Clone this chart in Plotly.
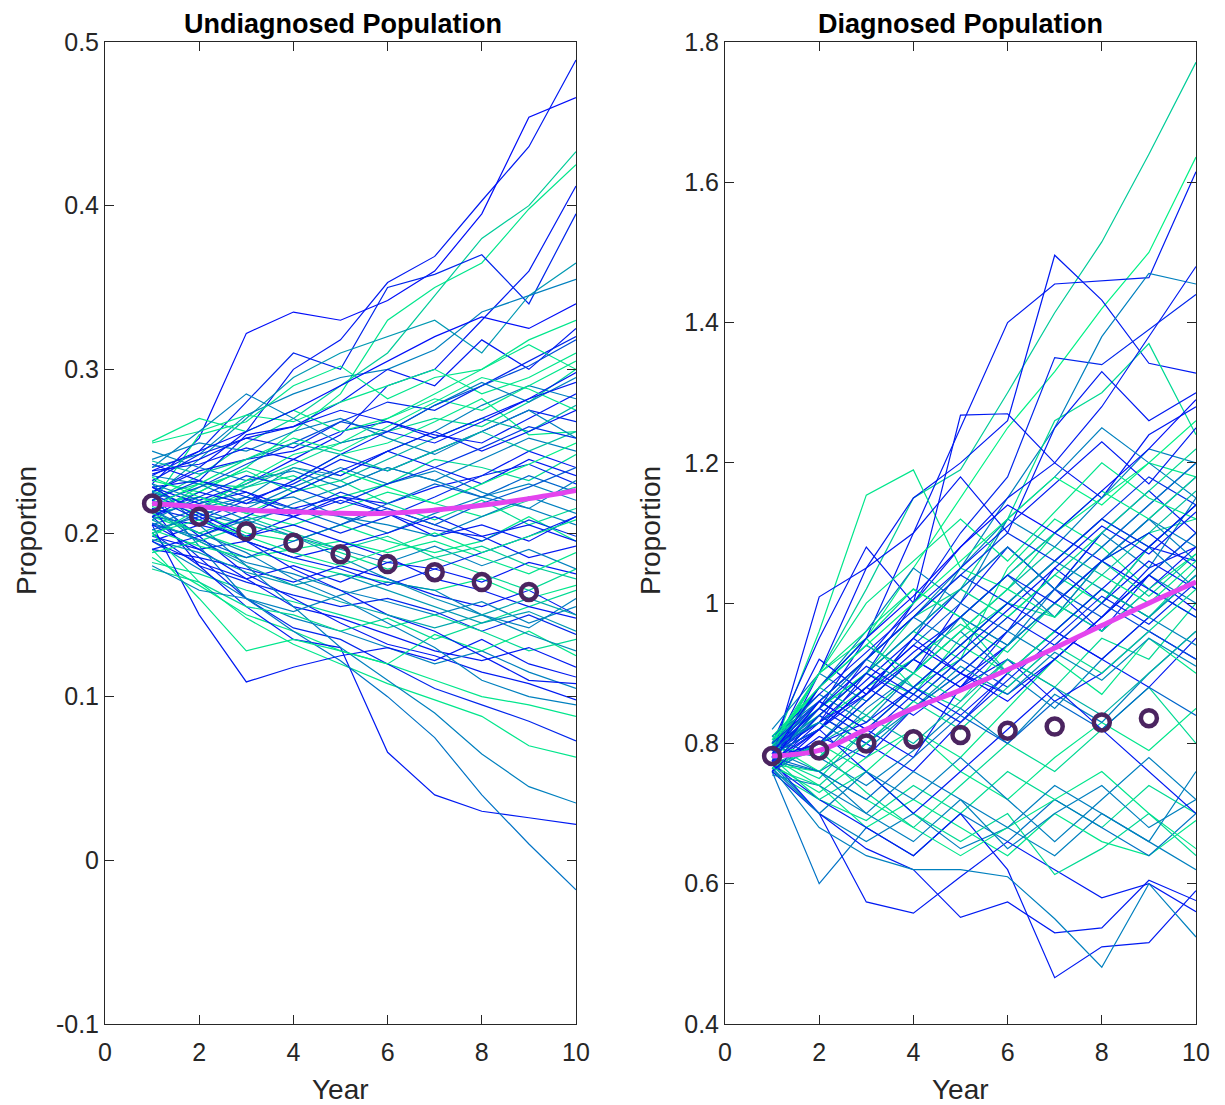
import plotly.graph_objects as go

YEARS = [1, 2, 3, 4, 5, 6, 7, 8, 9, 10]
MARK_YEARS = [1, 2, 3, 4, 5, 6, 7, 8, 9]

# ---------------- Undiagnosed population: simulated paths ----------------
U_PATHS = [
    [0.225,0.240,0.262,0.300,0.318,0.353,0.369,0.403,0.436,0.489],
    [0.230,0.258,0.322,0.335,0.330,0.342,0.360,0.395,0.454,0.466],
    [0.220,0.235,0.255,0.270,0.290,0.310,0.345,0.380,0.400,0.433],
    [0.215,0.225,0.240,0.262,0.285,0.330,0.350,0.365,0.398,0.425],
    [0.210,0.220,0.230,0.245,0.260,0.290,0.300,0.330,0.360,0.412],
    [0.235,0.250,0.280,0.310,0.300,0.350,0.358,0.370,0.340,0.395],
    [0.222,0.245,0.270,0.295,0.310,0.320,0.330,0.310,0.345,0.365],
    [0.240,0.248,0.272,0.285,0.295,0.300,0.312,0.335,0.345,0.355],
    [0.228,0.232,0.260,0.265,0.280,0.300,0.290,0.318,0.300,0.325],
    [0.218,0.260,0.268,0.290,0.302,0.282,0.295,0.300,0.318,0.330],
    [0.212,0.218,0.230,0.242,0.255,0.262,0.270,0.265,0.280,0.300],
    [0.205,0.215,0.222,0.240,0.235,0.250,0.262,0.278,0.290,0.282],
    [0.225,0.238,0.245,0.250,0.262,0.268,0.260,0.255,0.270,0.285],
    [0.232,0.225,0.240,0.232,0.248,0.255,0.268,0.282,0.260,0.262],
    [0.215,0.208,0.220,0.230,0.245,0.238,0.250,0.262,0.275,0.268],
    [0.200,0.212,0.205,0.218,0.228,0.240,0.232,0.245,0.258,0.250],
    [0.222,0.230,0.228,0.235,0.222,0.230,0.245,0.240,0.232,0.248],
    [0.210,0.205,0.215,0.210,0.222,0.218,0.228,0.235,0.250,0.240],
    [0.245,0.255,0.250,0.262,0.270,0.258,0.248,0.262,0.275,0.258],
    [0.255,0.262,0.272,0.268,0.280,0.290,0.300,0.285,0.295,0.310],
    [0.238,0.242,0.252,0.245,0.235,0.250,0.240,0.230,0.245,0.235],
    [0.218,0.222,0.212,0.205,0.215,0.225,0.218,0.210,0.220,0.228],
    [0.205,0.198,0.208,0.215,0.210,0.200,0.212,0.222,0.215,0.205],
    [0.228,0.218,0.225,0.210,0.200,0.210,0.222,0.235,0.242,0.230],
    [0.212,0.228,0.238,0.225,0.232,0.218,0.208,0.220,0.205,0.215],
    [0.195,0.205,0.198,0.210,0.220,0.212,0.198,0.205,0.195,0.210],
    [0.235,0.230,0.218,0.222,0.210,0.205,0.198,0.210,0.222,0.212],
    [0.220,0.212,0.200,0.195,0.205,0.195,0.188,0.195,0.210,0.195],
    [0.198,0.190,0.195,0.185,0.192,0.200,0.210,0.198,0.185,0.192],
    [0.225,0.215,0.205,0.198,0.190,0.182,0.192,0.180,0.190,0.178],
    [0.210,0.200,0.190,0.182,0.175,0.170,0.165,0.172,0.160,0.168],
    [0.190,0.185,0.178,0.170,0.180,0.172,0.162,0.155,0.165,0.150],
    [0.215,0.195,0.182,0.175,0.165,0.158,0.150,0.158,0.145,0.155],
    [0.200,0.180,0.170,0.162,0.155,0.160,0.152,0.140,0.150,0.138],
    [0.182,0.175,0.165,0.158,0.150,0.142,0.150,0.140,0.128,0.135],
    [0.205,0.190,0.172,0.155,0.148,0.138,0.128,0.122,0.130,0.118],
    [0.195,0.178,0.160,0.148,0.140,0.130,0.120,0.128,0.115,0.105],
    [0.220,0.198,0.175,0.160,0.145,0.132,0.125,0.115,0.108,0.098],
    [0.185,0.168,0.150,0.140,0.128,0.120,0.110,0.100,0.095,0.088],
    [0.210,0.185,0.160,0.142,0.135,0.120,0.105,0.095,0.085,0.073],
    [0.200,0.170,0.148,0.132,0.120,0.108,0.098,0.088,0.070,0.063],
    [0.215,0.180,0.155,0.135,0.130,0.066,0.040,0.030,0.026,0.022],
    [0.225,0.192,0.160,0.140,0.122,0.100,0.075,0.040,0.010,-0.018],
    [0.230,0.205,0.180,0.155,0.130,0.110,0.090,0.065,0.045,0.035],
    [0.205,0.150,0.109,0.118,0.125,0.130,0.122,0.135,0.120,0.112],
    [0.190,0.160,0.128,0.135,0.128,0.120,0.138,0.128,0.140,0.125],
    [0.178,0.170,0.155,0.150,0.140,0.148,0.135,0.145,0.155,0.165],
    [0.180,0.165,0.160,0.152,0.162,0.170,0.165,0.150,0.142,0.160],
    [0.195,0.182,0.172,0.180,0.170,0.182,0.178,0.170,0.182,0.175],
    [0.202,0.192,0.185,0.190,0.195,0.188,0.195,0.185,0.175,0.188],
    [0.242,0.232,0.225,0.215,0.222,0.212,0.202,0.198,0.205,0.195],
    [0.250,0.240,0.232,0.238,0.228,0.240,0.232,0.222,0.230,0.220],
    [0.256,0.270,0.262,0.275,0.262,0.270,0.282,0.275,0.290,0.305],
    [0.232,0.248,0.258,0.252,0.268,0.280,0.275,0.290,0.305,0.320],
    [0.208,0.222,0.215,0.228,0.240,0.230,0.238,0.225,0.215,0.232],
    [0.188,0.195,0.205,0.198,0.188,0.178,0.185,0.175,0.165,0.178],
    [0.214,0.200,0.188,0.172,0.160,0.145,0.130,0.110,0.100,0.095],
    [0.224,0.210,0.195,0.178,0.165,0.150,0.140,0.125,0.110,0.108],
    [0.198,0.215,0.232,0.248,0.255,0.270,0.285,0.300,0.315,0.300],
    [0.240,0.262,0.285,0.270,0.255,0.262,0.278,0.292,0.280,0.295],
    [0.218,0.228,0.242,0.255,0.268,0.262,0.278,0.290,0.302,0.318],
    [0.226,0.215,0.228,0.240,0.232,0.245,0.258,0.270,0.262,0.278],
    [0.210,0.225,0.218,0.232,0.248,0.262,0.255,0.268,0.282,0.298],
    [0.234,0.222,0.212,0.225,0.238,0.228,0.218,0.230,0.242,0.255],
    [0.202,0.210,0.222,0.215,0.205,0.218,0.230,0.222,0.235,0.225],
    [0.220,0.232,0.222,0.212,0.225,0.215,0.205,0.195,0.208,0.198],
    [0.212,0.200,0.210,0.200,0.190,0.198,0.185,0.192,0.180,0.172],
    [0.228,0.212,0.198,0.205,0.195,0.185,0.172,0.165,0.155,0.148],
    [0.196,0.188,0.176,0.168,0.175,0.165,0.155,0.145,0.152,0.140],
    [0.238,0.250,0.262,0.275,0.290,0.305,0.320,0.332,0.325,0.340],
    [0.216,0.230,0.245,0.258,0.250,0.265,0.280,0.295,0.288,0.275],
    [0.206,0.196,0.185,0.195,0.205,0.215,0.205,0.218,0.228,0.240],
    [0.222,0.208,0.195,0.185,0.178,0.168,0.178,0.188,0.198,0.210],
    [0.244,0.236,0.245,0.255,0.248,0.238,0.250,0.262,0.250,0.262],
    [0.190,0.198,0.210,0.225,0.238,0.250,0.262,0.250,0.262,0.275],
    [0.230,0.220,0.208,0.198,0.185,0.172,0.160,0.150,0.138,0.128],
    [0.214,0.222,0.235,0.228,0.218,0.230,0.240,0.252,0.265,0.258],
    [0.200,0.208,0.198,0.188,0.180,0.190,0.200,0.188,0.198,0.208],
    [0.236,0.245,0.258,0.265,0.275,0.268,0.258,0.270,0.282,0.292],
    [0.208,0.195,0.180,0.168,0.158,0.150,0.142,0.150,0.160,0.150],
]
U_MEAN = [0.218,0.216,0.214,0.213,0.212,0.212,0.214,0.217,0.221,0.226]
U_MARKS = [0.218,0.210,0.201,0.194,0.187,0.181,0.176,0.170,0.164]

# ---------------- Diagnosed population: simulated paths ----------------
D_PATHS = [
    [0.790,0.900,1.020,1.150,1.190,1.300,1.414,1.515,1.640,1.771],
    [0.800,0.880,0.950,1.050,1.150,1.250,1.330,1.420,1.500,1.636],
    [0.780,0.850,0.950,1.100,1.250,1.400,1.455,1.460,1.464,1.615],
    [0.770,0.900,1.050,1.150,1.200,1.260,1.496,1.432,1.342,1.328],
    [0.785,0.820,0.900,1.000,1.100,1.180,1.350,1.340,1.390,1.440],
    [0.760,0.800,0.870,0.950,1.050,1.150,1.250,1.380,1.470,1.455],
    [0.795,0.840,0.900,0.980,1.020,1.120,1.260,1.300,1.370,1.240],
    [0.770,0.830,0.920,1.000,1.080,1.150,1.200,1.280,1.380,1.480],
    [0.790,0.960,1.154,1.190,1.050,1.020,1.100,1.150,1.200,1.180],
    [0.780,1.009,1.050,1.100,1.180,1.100,1.250,1.330,1.260,1.300],
    [0.800,0.950,1.080,1.000,1.268,1.270,1.200,1.150,1.240,1.280],
    [0.775,0.880,0.960,1.050,1.000,1.120,1.180,1.250,1.200,1.150],
    [0.790,0.850,0.900,0.870,0.950,1.000,0.980,1.060,1.100,1.120],
    [0.770,0.820,0.870,0.920,0.880,0.960,1.050,1.000,1.080,1.060],
    [0.800,0.870,0.830,0.900,0.980,0.940,1.020,1.100,1.050,1.150],
    [0.785,0.900,0.950,0.880,0.920,1.050,1.120,1.080,1.020,0.980],
    [0.760,0.810,0.780,0.850,0.900,0.870,0.920,0.980,1.050,1.080],
    [0.810,0.860,0.920,0.980,1.050,1.120,1.080,1.150,1.220,1.200],
    [0.780,0.750,0.820,0.880,0.850,0.920,0.880,0.950,0.920,1.000],
    [0.770,0.840,0.800,0.760,0.830,0.900,0.960,0.920,0.880,0.950],
    [0.795,0.780,0.850,0.900,0.960,0.900,0.850,0.920,0.980,0.940],
    [0.765,0.800,0.760,0.820,0.780,0.850,0.920,0.870,0.950,0.900],
    [0.790,0.880,0.940,0.900,1.000,1.080,1.020,0.960,1.040,1.100],
    [0.800,0.830,0.880,0.920,0.970,0.930,1.000,1.060,1.010,1.070],
    [0.775,0.760,0.800,0.850,0.900,0.960,0.920,0.980,1.040,1.000],
    [0.785,0.820,0.880,0.840,0.890,0.940,1.000,0.960,1.020,1.080],
    [0.770,0.730,0.780,0.820,0.760,0.720,0.780,0.830,0.790,0.850],
    [0.810,0.780,0.740,0.790,0.850,0.800,0.870,0.830,0.900,0.960],
    [0.780,0.800,0.830,0.880,0.840,0.900,0.960,0.920,0.980,1.040],
    [0.760,0.720,0.690,0.740,0.700,0.760,0.720,0.680,0.740,0.700],
    [0.770,0.700,0.660,0.700,0.650,0.680,0.640,0.700,0.660,0.620],
    [0.780,0.740,0.680,0.720,0.680,0.640,0.700,0.660,0.640,0.690],
    [0.760,0.600,0.680,0.640,0.700,0.660,0.720,0.680,0.640,0.700],
    [0.775,0.700,0.574,0.558,0.610,0.660,0.620,0.580,0.600,0.560],
    [0.760,0.700,0.650,0.620,0.552,0.574,0.530,0.537,0.605,0.576],
    [0.770,0.720,0.680,0.640,0.700,0.620,0.466,0.510,0.516,0.590],
    [0.765,0.680,0.640,0.620,0.620,0.610,0.550,0.481,0.600,0.524],
    [0.770,0.760,0.720,0.680,0.640,0.680,0.720,0.760,0.700,0.650],
    [0.780,0.720,0.760,0.700,0.660,0.700,0.613,0.650,0.700,0.640],
    [0.790,0.760,0.700,0.760,0.720,0.650,0.700,0.740,0.680,0.720],
    [0.780,0.800,0.860,0.920,0.880,0.940,1.000,1.060,1.020,0.980],
    [0.755,0.740,0.700,0.660,0.720,0.680,0.740,0.700,0.660,0.760],
    [0.800,0.850,0.900,0.960,0.920,0.980,1.040,1.000,1.080,1.140],
    [0.790,0.830,0.870,0.930,0.980,1.040,1.100,1.060,1.120,1.180],
    [0.820,0.900,0.860,0.920,0.980,1.040,0.980,1.060,1.120,1.060],
    [0.805,0.880,0.950,1.020,0.980,0.900,0.960,1.020,0.980,1.050],
    [0.790,0.920,0.870,0.950,1.020,1.080,1.020,1.100,1.160,1.100],
    [0.775,0.850,0.920,0.980,0.940,1.000,1.060,1.120,1.080,1.020],
    [0.800,0.780,0.840,0.900,0.860,0.940,1.000,0.960,1.020,1.070],
    [0.790,0.860,0.820,0.780,0.880,0.920,0.860,0.900,0.960,0.920],
    [0.770,0.840,0.900,0.960,1.020,0.980,1.040,1.100,1.160,1.220],
    [0.785,0.830,0.890,0.950,0.900,0.960,1.020,1.080,1.140,1.200],
    [0.760,0.800,0.860,0.920,0.980,0.940,1.000,1.060,1.120,1.080],
    [0.800,0.760,0.820,0.880,0.940,0.900,0.960,1.020,0.980,1.040],
    [0.775,0.820,0.760,0.700,0.760,0.820,0.880,0.820,0.760,0.700],
    [0.790,0.840,0.900,0.960,1.020,1.080,1.020,1.080,1.140,1.200],
    [0.770,0.790,0.730,0.680,0.740,0.800,0.760,0.820,0.880,0.800],
    [0.810,0.870,0.930,0.990,1.050,1.110,1.170,1.230,1.170,1.250],
    [0.765,0.700,0.760,0.720,0.780,0.720,0.660,0.720,0.780,0.720],
    [0.795,0.900,1.000,1.060,1.120,1.060,1.130,1.200,1.150,1.120],
    [0.780,0.860,0.920,0.980,1.040,1.000,1.060,1.120,1.180,1.140],
    [0.790,0.880,0.840,0.900,0.960,1.020,1.080,1.040,1.100,1.160],
    [0.770,0.840,0.900,0.860,0.920,0.980,0.940,1.000,1.060,1.020],
    [0.800,0.900,0.960,1.020,0.980,1.040,1.100,1.160,1.120,1.180],
    [0.785,0.820,0.880,0.940,1.000,0.960,1.020,0.980,1.040,1.100],
    [0.760,0.820,0.880,0.940,0.900,0.860,0.920,0.980,1.040,0.990],
    [0.795,0.860,0.920,0.880,0.940,1.000,1.060,1.020,0.980,1.040],
    [0.775,0.800,0.860,0.920,0.980,1.040,1.000,1.060,1.100,1.050],
    [0.805,0.880,0.940,1.000,1.060,1.120,1.180,1.140,1.200,1.260],
    [0.780,0.840,0.800,0.860,0.920,0.880,0.940,1.000,0.960,0.920],
    [0.790,0.850,0.910,0.870,0.930,0.990,1.050,1.110,1.070,1.130],
    [0.770,0.800,0.840,0.800,0.860,0.920,0.880,0.840,0.900,0.960],
    [0.800,0.860,0.920,0.980,1.040,1.100,1.060,1.120,1.080,1.140],
    [0.765,0.740,0.800,0.860,0.820,0.880,0.940,0.900,0.960,1.020],
    [0.785,0.880,0.950,1.010,1.080,1.140,1.100,1.160,1.220,1.290],
    [0.795,0.830,0.790,0.850,0.910,0.870,0.930,0.890,0.950,0.910],
    [0.775,0.860,0.820,0.880,0.940,1.000,0.960,1.020,1.080,1.140],
    [0.810,0.880,0.940,0.900,0.960,1.020,0.980,1.040,1.000,1.060],
    [0.780,0.760,0.720,0.780,0.840,0.800,0.860,0.820,0.880,0.840],
    [0.790,0.850,0.810,0.870,0.830,0.890,0.950,1.010,0.970,1.030],
]
D_MEAN = [0.782,0.790,0.820,0.850,0.876,0.905,0.936,0.968,1.000,1.030]
D_MARKS = [0.782,0.790,0.800,0.806,0.812,0.818,0.824,0.830,0.836]

U_TICKVALS = [-0.1, 0, 0.1, 0.2, 0.3, 0.4, 0.5]
U_TICKTEXT = ["-0.1", "0", "0.1", "0.2", "0.3", "0.4", "0.5"]
D_TICKVALS = [0.4, 0.6, 0.8, 1.0, 1.2, 1.4, 1.6, 1.8]
D_TICKTEXT = ["0.4", "0.6", "0.8", "1", "1.2", "1.4", "1.6", "1.8"]
X_TICKVALS = [0, 2, 4, 6, 8, 10]

# colour position on the "winter" colormap for each path (0 = blue, 1 = green)
U_CPOS = [0.1,0.05,0.8,0.9,0.1,0.15,0.6,0.5,0.1,0.9,
          0.85,0.5,0.1,0.9,0.15,0.5,0.85,0.1,0.5,0.9,
          0.1,0.9,0.5,0.15,0.85,0.1,0.5,0.9,0.1,0.5,
          0.9,0.1,0.5,0.15,0.85,0.1,0.5,0.1,0.9,0.15,
          0.9,0.1,0.45,0.5,0.1,0.9,0.85,0.5,0.1,0.9,
          0.1,0.5,0.9,0.15,0.5,0.85,0.5,0.1,0.9,0.5,
          0.3,0.7,0.1,0.95,0.4,0.2,0.8,0.1,0.6,0.05,
          0.9,0.35,0.15,0.75,0.1,0.55,0.2,0.9,0.1,0.65]
D_CPOS = [0.8,0.95,0.1,0.1,0.15,0.5,0.85,0.1,0.9,0.1,
          0.1,0.5,0.85,0.1,0.5,0.9,0.1,0.5,0.85,0.1,
          0.5,0.9,0.1,0.85,0.5,0.1,0.9,0.5,0.1,0.85,
          0.5,0.9,0.45,0.1,0.1,0.1,0.5,0.9,0.85,0.5,
          0.1,0.5,0.9,0.1,0.5,0.85,0.1,0.5,0.9,0.1,
          0.85,0.1,0.5,0.9,0.1,0.5,0.85,0.1,0.5,0.9,
          0.2,0.75,0.1,0.9,0.35,0.05,0.6,0.15,0.95,0.3,
          0.1,0.7,0.2,0.85,0.05,0.55,0.1,0.9,0.4,0.15]

# the page body adds an 8 px offset, so the figure is drawn 8 px smaller
OFF = 8
W, H = 1225 - OFF, 1105 - OFF


def winter(t):
    g = int(round(255 * t))
    b = int(round(255 * (1 - 0.5 * t)))
    return f"rgb(0,{g},{b})"


def px(x):
    return (x - OFF) / W


def py(y):
    return 1 - (y - OFF) / H


fig = go.Figure()

for paths, cpos, xa, ya in [(U_PATHS, U_CPOS, "x", "y"), (D_PATHS, D_CPOS, "x2", "y2")]:
    for p, c in zip(paths, cpos):
        fig.add_trace(go.Scatter(x=YEARS, y=p, mode="lines", xaxis=xa, yaxis=ya,
                                 line=dict(color=winter(c), width=1.2),
                                 hoverinfo="skip", showlegend=False))

for mean, marks, xa, ya in [(U_MEAN, U_MARKS, "x", "y"), (D_MEAN, D_MARKS, "x2", "y2")]:
    fig.add_trace(go.Scatter(x=YEARS, y=mean, mode="lines", xaxis=xa, yaxis=ya,
                             line=dict(color="#e444ee", width=5, shape="spline"),
                             showlegend=False))
    fig.add_trace(go.Scatter(x=MARK_YEARS, y=marks, mode="markers", xaxis=xa, yaxis=ya,
                             marker=dict(symbol="circle-open", size=16, color="#4b2460",
                                         line=dict(width=4.5, color="#4b2460")),
                             showlegend=False))

FONT = "Liberation Sans, Arial, sans-serif"
axis_common = dict(showline=True, linecolor="#262626", linewidth=1, mirror="ticks",
                   ticks="inside", ticklen=9, tickcolor="#262626", tickwidth=1,
                   showgrid=False, zeroline=False, automargin=False,
                   tickfont=dict(family=FONT, size=25, color="#262626"))


def ann(text, x, y, size, angle=0, color="#262626"):
    return dict(text=text, x=px(x), y=py(y), xref="paper", yref="paper",
                showarrow=False, textangle=angle, xanchor="center", yanchor="middle",
                font=dict(family=FONT, size=size, color=color))


fig.update_layout(
    width=W, height=H,
    margin=dict(l=0, r=0, t=0, b=0, pad=0, autoexpand=False),
    paper_bgcolor="white", plot_bgcolor="white",
    xaxis=dict(domain=[px(105), px(576)], range=[0, 10], tickvals=X_TICKVALS,
               anchor="y", ticklabelstandoff=6, **axis_common),
    yaxis=dict(domain=[py(1024), py(42)], range=[-0.1, 0.5], tickvals=U_TICKVALS,
               ticktext=U_TICKTEXT, anchor="x", **axis_common),
    xaxis2=dict(domain=[px(725), px(1196)], range=[0, 10], tickvals=X_TICKVALS,
                anchor="y2", ticklabelstandoff=6, **axis_common),
    yaxis2=dict(domain=[py(1024), py(42)], range=[0.4, 1.8], tickvals=D_TICKVALS,
                ticktext=D_TICKTEXT, anchor="x2", **axis_common),
    annotations=[
        ann("<b>Undiagnosed Population</b>", 343, 24, 27, color="black"),
        ann("<b>Diagnosed Population</b>", 960, 24, 27, color="black"),
        ann("Year", 340, 1089, 28),
        ann("Year", 960, 1089, 28),
        ann("Proportion", 26, 531, 28, angle=-90),
        ann("Proportion", 650, 531, 28, angle=-90),
    ],
)

fig.write_html("out.html")
